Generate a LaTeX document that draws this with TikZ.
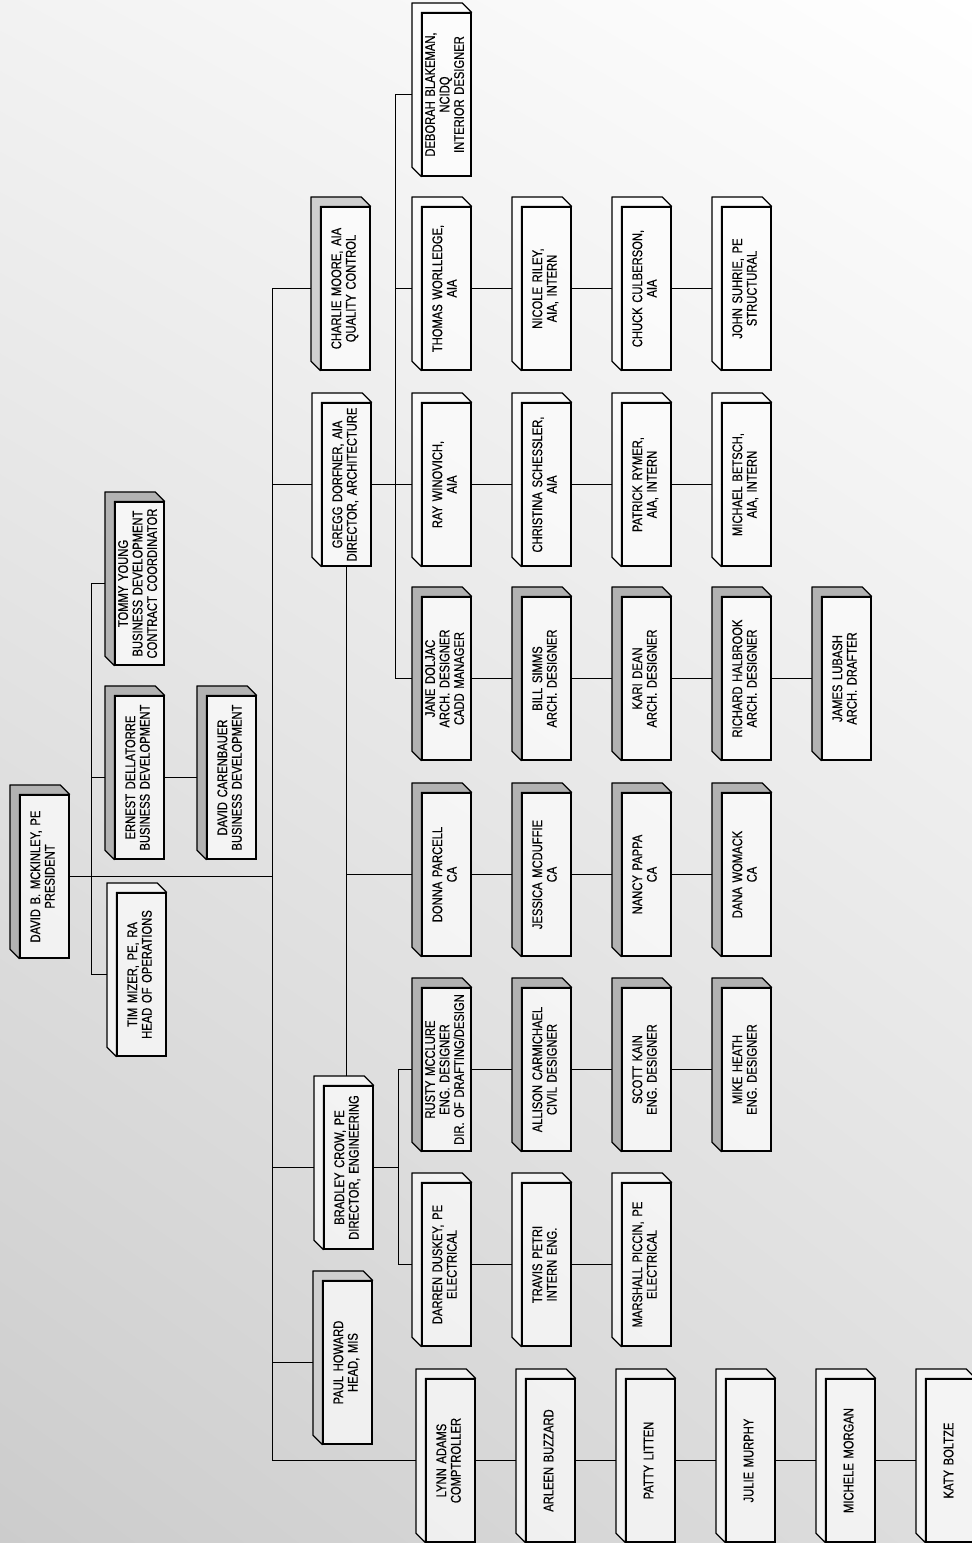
\documentclass[tikz,border=0pt]{standalone}
\usepackage{fontspec}
\newfontfamily\boxfont{Liberation Sans}[FakeStretch=0.8,WordSpace=1.5,FakeBold=0.6]
\usetikzlibrary{calc,shadings}
\tikzset{
  front/.style={draw=black, line width=1.2pt, fill=white, fill opacity=0.65, text opacity=1,
    minimum width=49pt, minimum height=163pt, inner sep=0pt,
    font=\boxfont\fontsize{14}{14.5}\selectfont},
  link/.style={draw=black, line width=0.9pt},
  dk/.style={fill=gray!60},
  md/.style={fill=gray!38},
  lt/.style={fill=white, fill opacity=0.65},
}
\newcommand{\obox}[5]{%
  \node[front] (#1) at (#2+24.5,#3+81.5) {\rotatebox{90}{\begin{tabular}{@{}c@{}}#5\end{tabular}}};
  \path[#4, draw=black, line width=1.2pt, line join=round]
    (#1.south west) -- ([shift={(-9.5pt,9.5pt)}]#1.south west)
    -- ([shift={(-9.5pt,9.5pt)}]#1.north west)
    -- ([shift={(-9.5pt,9.5pt)}]#1.north east)
    -- (#1.north east) -- (#1.north west) -- cycle;
}
\begin{document}
\begin{tikzpicture}[x=1pt,y=-1pt]
\useasboundingbox (0,0) rectangle (972,1543);
\shade[upper left=gray!10, upper right=white, lower left=gray!40, lower right=gray!26] (0,0) rectangle (972,1543);

% top group
\obox{DM}{20}{795}{dk}{DAVID B. MCKINLEY, PE\\PRESIDENT}
\obox{TIM}{117}{893}{lt}{TIM MIZER, PE, RA\\HEAD OF OPERATIONS}
\obox{ERN}{115}{696}{dk}{ERNEST DELLATORRE\\BUSINESS DEVELOPMENT}
\obox{TOMMY}{115}{502}{dk}{TOMMY YOUNG\\BUSINESS DEVELOPMENT\\CONTRACT COORDINATOR}
\obox{DC}{207}{696}{dk}{DAVID CARENBAUER\\BUSINESS DEVELOPMENT}

% column 4
\obox{CHARLIE}{321}{207}{md}{CHARLIE MOORE, AIA\\QUALITY CONTROL}
\obox{GREGG}{322}{403}{lt}{GREGG DORFNER, AIA\\DIRECTOR, ARCHITECTURE}
\obox{BRAD}{324}{1086}{lt}{BRADLEY CROW, PE\\DIRECTOR, ENGINEERING}
\obox{PAUL}{323}{1281}{md}{PAUL HOWARD\\HEAD, MIS}

% row 0
\obox{DEB}{422}{13}{lt}{DEBORAH BLAKEMAN,\\NCIDQ\\INTERIOR DESIGNER}
% row 1
\obox{THOM}{422}{207}{lt}{THOMAS WORLLEDGE,\\AIA}
\obox{NIC}{522}{207}{lt}{NICOLE RILEY,\\AIA, INTERN}
\obox{CHUCK}{622}{207}{lt}{CHUCK CULBERSON,\\AIA}
\obox{JOHN}{722}{207}{lt}{JOHN SUHRIE, PE\\STRUCTURAL}
% row 2
\obox{RAY}{422}{403}{lt}{RAY WINOVICH,\\AIA}
\obox{CHRIS}{522}{403}{lt}{CHRISTINA SCHESSLER,\\AIA}
\obox{PAT}{622}{403}{lt}{PATRICK RYMER,\\AIA, INTERN}
\obox{MICH}{722}{403}{lt}{MICHAEL BETSCH,\\AIA, INTERN}
% row 3
\obox{JANE}{422}{597}{dk}{JANE DOLJAC\\ARCH. DESIGNER\\CADD MANAGER}
\obox{BILL}{522}{597}{dk}{BILL SIMMS\\ARCH. DESIGNER}
\obox{KARI}{622}{597}{dk}{KARI DEAN\\ARCH. DESIGNER}
\obox{RICH}{722}{597}{dk}{RICHARD HALBROOK\\ARCH. DESIGNER}
\obox{JAMES}{822}{597}{dk}{JAMES LUBASH\\ARCH. DRAFTER}
% row 4
\obox{DONNA}{422}{793}{dk}{DONNA PARCELL\\CA}
\obox{JESS}{522}{793}{dk}{JESSICA MCDUFFIE\\CA}
\obox{NANCY}{622}{793}{dk}{NANCY PAPPA\\CA}
\obox{DANA}{722}{793}{dk}{DANA WOMACK\\CA}
% row 5
\obox{RUSTY}{422}{988}{dk}{RUSTY MCCLURE\\ENG. DESIGNER\\DIR. OF DRAFTING/DESIGN}
\obox{ALLI}{522}{988}{dk}{ALLISON CARMICHAEL\\CIVIL DESIGNER}
\obox{SCOTT}{622}{988}{dk}{SCOTT KAIN\\ENG. DESIGNER}
\obox{MIKE}{722}{988}{dk}{MIKE HEATH\\ENG. DESIGNER}
% row 6
\obox{DARREN}{422}{1183}{lt}{DARREN DUSKEY, PE\\ELECTRICAL}
\obox{TRAV}{522}{1183}{lt}{TRAVIS PETRI\\INTERN ENG.}
\obox{MARSH}{622}{1183}{lt}{MARSHALL PICCIN, PE\\ELECTRICAL}
% row 7
\obox{LYNN}{426}{1379}{lt}{LYNN ADAMS\\COMPTROLLER}
\obox{ARL}{526}{1379}{lt}{ARLEEN BUZZARD}
\obox{PATTY}{626}{1379}{lt}{PATTY LITTEN}
\obox{JULIE}{726}{1379}{lt}{JULIE MURPHY}
\obox{MICHELE}{826}{1379}{lt}{MICHELE MORGAN}
\obox{KATY}{926}{1379}{lt}{KATY BOLTZE}

% bus coordinates
\coordinate (busx) at (272,0);
\coordinate (vx) at (91,0);
\coordinate (gx) at (395,0);
\coordinate (bx) at (398,0);
\coordinate (Btop) at ([yshift=9.5pt]BRAD.north);

% president and staff
\draw[link] (DM.east) -- (DM.east -| busx);
\draw[link] (vx |- TOMMY.west) -- (vx |- TIM.west);
\draw[link] (vx |- TOMMY.west) -- ([xshift=-9.5pt]TOMMY.west);
\draw[link] (vx |- ERN.west) -- ([xshift=-9.5pt]ERN.west);
\draw[link] (vx |- TIM.west) -- ([xshift=-9.5pt]TIM.west);
\draw[link] (ERN.east) -- ([xshift=-9.5pt]DC.west);

% main bus
\draw[link] (busx |- CHARLIE.west) -- (busx |- LYNN.west);
\foreach \n in {CHARLIE,GREGG,BRAD,PAUL,LYNN}
  \draw[link] (busx |- \n.west) -- ([xshift=-9.5pt]\n.west);

% architecture
\draw[link] (GREGG.east) -- ([xshift=-9.5pt]RAY.west);
\draw[link] (gx |- DEB.west) -- (gx |- JANE.west);
\foreach \n in {DEB,THOM,JANE}
  \draw[link] (gx |- \n.west) -- ([xshift=-9.5pt]\n.west);
\draw[link] (GREGG.south) -- (GREGG.south |- Btop);
\draw[link] (GREGG.south |- DONNA.west) -- ([xshift=-9.5pt]DONNA.west);

% engineering
\draw[link] (BRAD.east) -- (bx |- BRAD.east);
\draw[link] (bx |- RUSTY.west) -- (bx |- DARREN.west);
\foreach \n in {RUSTY,DARREN}
  \draw[link] (bx |- \n.west) -- ([xshift=-9.5pt]\n.west);

% chains
\foreach \a/\b in {THOM/NIC,NIC/CHUCK,CHUCK/JOHN,
                   RAY/CHRIS,CHRIS/PAT,PAT/MICH,
                   JANE/BILL,BILL/KARI,KARI/RICH,RICH/JAMES,
                   DONNA/JESS,JESS/NANCY,NANCY/DANA,
                   RUSTY/ALLI,ALLI/SCOTT,SCOTT/MIKE,
                   DARREN/TRAV,TRAV/MARSH,
                   LYNN/ARL,ARL/PATTY,PATTY/JULIE,JULIE/MICHELE,MICHELE/KATY}
  \draw[link] (\a.east) -- ([xshift=-9.5pt]\b.west);
\end{tikzpicture}
\end{document}
